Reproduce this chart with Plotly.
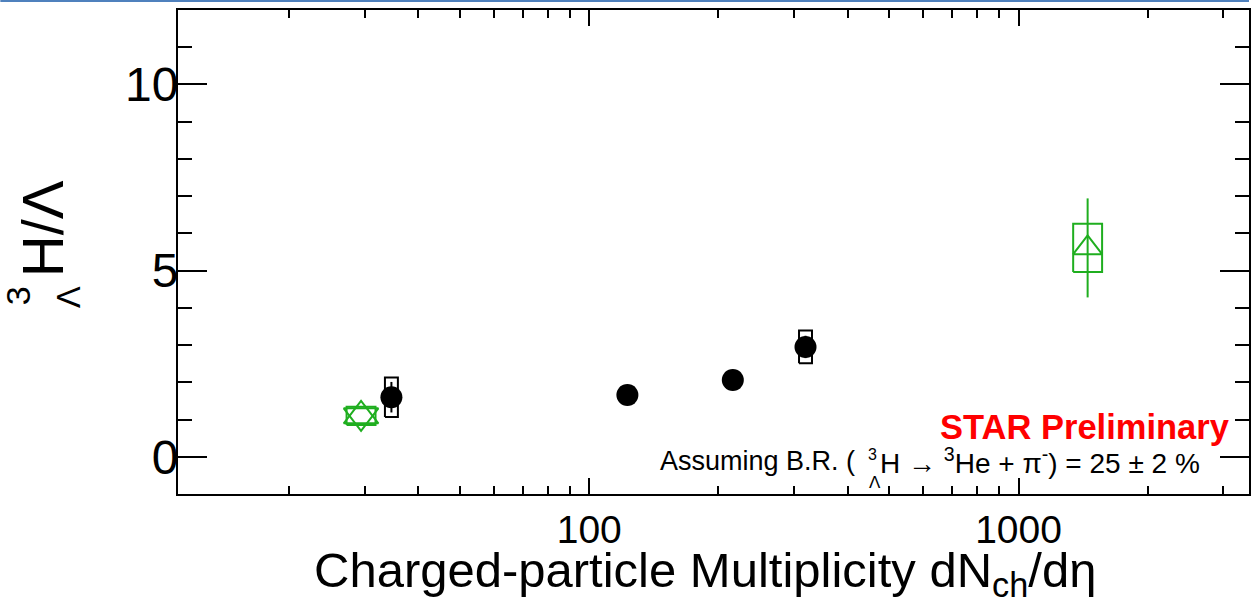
import plotly.graph_objects as go

# STAR Au+Au measurements (black)
star_dndeta = [34.6, 122.7, 216.0, 319.0]
star_ratio = [1.60, 1.66, 2.06, 2.95]
star_stat = [0.41, 0.22, 0.24, 0.30]
star_sys = [0.53, 0.20, 0.20, 0.44]

# p-Pb point (green, star-shaped)
ppb_dndeta = [29.4]
ppb_ratio = [1.10]
ppb_sys = [0.245]

# Pb-Pb point (green, triangle)
pbpb_dndeta = [1449.0]
pbpb_ratio = [5.61]
pbpb_stat = [1.33]
pbpb_sys = [0.65]

x_tick_vals = [100, 1000]
x_tick_text = ["100", "1000"]
x_minor_vals = [20, 30, 40, 50, 60, 70, 80, 90,
                200, 300, 400, 500, 600, 700, 800, 900, 2000, 3000]
y_tick_vals = [0, 5, 10]
y_tick_text = ["0", "5", "10"]

FONT = "Liberation Sans, Arial, sans-serif"
GREEN = "#1fae1f"
W, H = 1251, 611
L, T, B, R = 178, 10, 117, 0
PW, PH = W - L - R, H - T - B

# half-widths of the systematic boxes, in decades of the log axis
BOX_HALF_BLACK = 0.0151
BOX_HALF_GREEN = 0.0337


def px_x(p):
    return (p - L) / PW


def px_y(p):
    return (H - B - p) / PH


def sys_box(x, y, s, half, color):
    f = 10 ** half
    return go.Scatter(
        x=[x / f, x * f, x * f, x / f, x / f],
        y=[y - s, y - s, y + s, y + s, y - s],
        mode="lines", line=dict(color=color, width=2),
        hoverinfo="skip", showlegend=False)


fig = go.Figure()

# systematic boxes (drawn first, markers sit on top)
for x, y, s in zip(star_dndeta, star_ratio, star_sys):
    fig.add_trace(sys_box(x, y, s, BOX_HALF_BLACK, "black"))
for x, y, s in zip(ppb_dndeta, ppb_ratio, ppb_sys):
    fig.add_trace(sys_box(x, y, s, BOX_HALF_GREEN, GREEN))
for x, y, s in zip(pbpb_dndeta, pbpb_ratio, pbpb_sys):
    fig.add_trace(sys_box(x, y, s, BOX_HALF_GREEN, GREEN))

fig.add_trace(go.Scatter(
    x=star_dndeta, y=star_ratio, mode="markers",
    marker=dict(symbol="circle", size=22, color="black"),
    error_y=dict(type="data", array=star_stat, color="black",
                 thickness=2, width=0),
    showlegend=False))

# two overlapping open triangles form the star marker
for sym in ("triangle-up-open", "triangle-down-open"):
    fig.add_trace(go.Scatter(
        x=ppb_dndeta, y=ppb_ratio, mode="markers",
        marker=dict(symbol=sym, size=30,
                    line=dict(color=GREEN, width=2), color=GREEN),
        showlegend=False))

fig.add_trace(go.Scatter(
    x=pbpb_dndeta, y=pbpb_ratio, mode="markers",
    marker=dict(symbol="triangle-up-open", size=25,
                line=dict(color=GREEN, width=2), color=GREEN),
    error_y=dict(type="data", array=pbpb_stat, color=GREEN,
                 thickness=2, width=0),
    showlegend=False))

# slide border line along the top
shapes = [dict(type="line", xref="paper", yref="paper",
               x0=px_x(0), x1=px_x(W), y0=px_y(1), y1=px_y(1),
               line=dict(color="#4f81bd", width=2))]

annotations = [
    # y-axis title: ^3_Lambda H / Lambda
    dict(text="H/Λ", x=px_x(42), y=px_y(229), textangle=-90,
         font=dict(size=58)),
    dict(text="3", x=px_x(18), y=px_y(296), textangle=-90,
         font=dict(size=34)),
    dict(text="Λ", x=px_x(68), y=px_y(297), textangle=-90,
         font=dict(size=33)),
    # x-axis title
    dict(text="Charged-particle Multiplicity dN<sub>ch</sub>/dη",
         x=px_x(706), y=px_y(573), font=dict(size=49)),
    # labels inside the frame
    dict(text="<b>STAR Preliminary</b>", x=px_x(1233), y=px_y(427),
         xanchor="right", font=dict(size=34.5, color="#ff0000")),
    dict(text="Assuming B.R. (", x=px_x(858), y=px_y(461),
         xanchor="right", font=dict(size=27)),
    dict(text="3", x=px_x(874), y=px_y(454), font=dict(size=16)),
    dict(text="Λ", x=px_x(876), y=px_y(482), font=dict(size=17)),
    dict(text="H → <sup>3</sup>He + π<sup>-</sup>) = 25 ± 2 %",
         x=px_x(879), y=px_y(461), xanchor="left", font=dict(size=28)),
]
for a in annotations:
    a.update(xref="paper", yref="paper", showarrow=False)
    a.setdefault("xanchor", "center")
    a.setdefault("yanchor", "middle")
    a["font"].setdefault("color", "black")
    a["font"]["family"] = FONT

fig.update_layout(
    width=W, height=H,
    margin=dict(l=L, r=R, t=T, b=B, pad=0),
    paper_bgcolor="white", plot_bgcolor="white",
    font=dict(family=FONT, color="black"),
    shapes=shapes, annotations=annotations,
    showlegend=False,
)

fig.update_xaxes(
    type="log", range=[1.0419, 3.537],
    tickmode="array", tickvals=x_tick_vals, ticktext=x_tick_text,
    ticks="inside", ticklen=16, tickwidth=2, tickcolor="black",
    minor=dict(tickmode="array", tickvals=x_minor_vals, ticks="inside",
               ticklen=8, tickwidth=2, tickcolor="black", showgrid=False),
    showline=True, linecolor="black", linewidth=2, mirror="ticks",
    showgrid=False, zeroline=False,
    tickfont=dict(size=39, family=FONT, color="black"),
)
fig.update_yaxes(
    range=[-1, 12],
    tickmode="array", tickvals=y_tick_vals, ticktext=y_tick_text,
    ticks="inside", ticklen=29, tickwidth=2, tickcolor="black",
    minor=dict(dtick=1, tick0=0, ticks="inside", ticklen=14, tickwidth=2,
               tickcolor="black", showgrid=False),
    showline=True, linecolor="black", linewidth=2, mirror="ticks",
    showgrid=False, zeroline=False,
    ticklabelstandoff=-12,
    tickfont=dict(size=48, family=FONT, color="black"),
)

fig.write_html("out.html")
